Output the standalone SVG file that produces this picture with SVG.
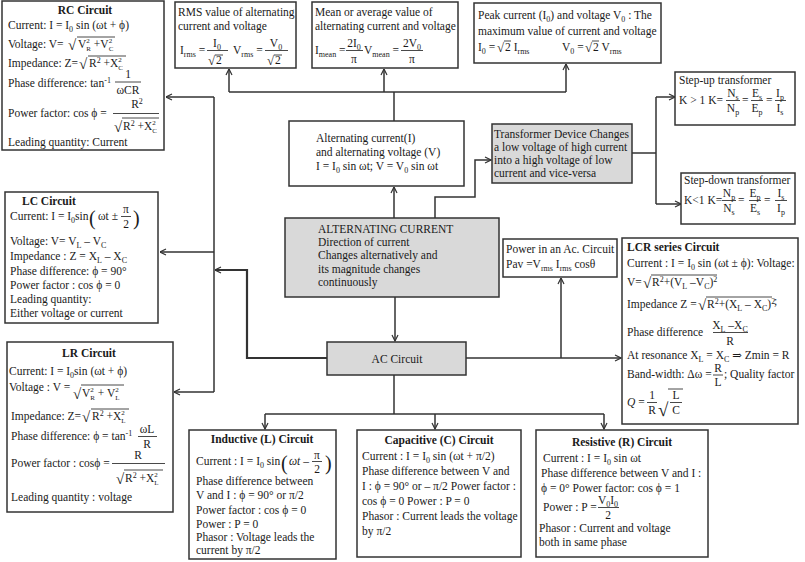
<svg xmlns="http://www.w3.org/2000/svg" width="805" height="562" viewBox="0 0 805 562">
<defs>
<style>
text{font-family:"Liberation Serif","DejaVu Serif",serif;font-size:11.5px;fill:#1a1a1a}
.b{font-weight:bold}
.m{text-anchor:middle}
.i{font-style:italic}
.sb{font-size:8px;baseline-shift:-2.5px}
.sp{font-size:8px;baseline-shift:4px}
.sp2{font-size:7px;baseline-shift:5px}
.sb2{font-size:7px;baseline-shift:-3px}
.rad{font-size:15px}
.rs{font-size:13px}
.bp{font-size:20px}
.box{fill:#fff;stroke:#333;stroke-width:1.5}
.gbox{fill:#d9d9d9;stroke:#333;stroke-width:1.5}
.ov{stroke:#1a1a1a;stroke-width:0.8}
.c path{fill:none;stroke:#333;stroke-width:1.5}
.c .a{marker-end:url(#ah)}
.c .t{stroke-width:2.2}
</style>
<marker id="ah" viewBox="0 0 8 8" refX="7.5" refY="4" markerWidth="8" markerHeight="8" markerUnits="userSpaceOnUse" orient="auto">
<path d="M1.5,1 L7.5,4 L1.5,7" fill="none" stroke="#333" stroke-width="1.2"/>
</marker>
</defs>
<rect width="805" height="562" fill="#fff"/>

<g class="c" id="connectors">
<path d="M394,121 V92"/>
<path d="M229,92 H566"/>
<path class="a" d="M229,92 V69"/>
<path class="a" d="M384,92 V69"/>
<path class="a" d="M566,92 V64"/>
<path class="a" d="M394,218 V187"/>
<path class="a" d="M435,218 V197 H475 V160 H491"/>
<path d="M632,153 H656"/>
<path d="M656,97 V204"/>
<path class="a" d="M656,97 H675"/>
<path class="a" d="M656,204 H681"/>
<path class="a" d="M395,297 V341"/>
<path class="a" d="M466,358 H621"/>
<path class="a" d="M561,358 V278"/>
<path class="a t" d="M327,358 H247 V270 H215"/>
<path d="M214,97 V392"/>
<path class="a" d="M214,97 H166"/>
<path class="a" d="M214,252 H160"/>
<path class="a" d="M214,392 H174"/>
<path d="M394,375 V414"/>
<path d="M265,414 H604"/>
<path class="a" d="M265,414 V429"/>
<path class="a" d="M435,414 V429"/>
<path class="a" d="M604,414 V429"/>
</g>

<g id="rc-circuit">
<rect class="box" x="2" y="1" width="162" height="149"/>
<text class="b m" x="85" y="14">RC Circuit</text>
<text x="8" y="29">Current: I = I<tspan class="sb">0</tspan> sin (ωt + ϕ)</text>
<text x="8" y="48">Voltage: V=</text>
<text class="rad" x="68" y="50">√</text>
<line class="ov" x1="77" y1="37" x2="115" y2="37"/>
<text x="78" y="48">V<tspan class="sp2">2</tspan><tspan class="sb2" dx="-3.5">R</tspan> +V<tspan class="sp2">2</tspan><tspan class="sb2" dx="-3.5">C</tspan></text>
<text x="8" y="67">Impedance: Z=</text>
<text class="rad" x="79" y="69">√</text>
<line class="ov" x1="88" y1="56" x2="126" y2="56"/>
<text x="89" y="67">R<tspan class="sp">2</tspan> +X<tspan class="sp2">2</tspan><tspan class="sb2" dx="-3.5">C</tspan></text>
<text x="8" y="87">Phase difference: tan<tspan class="sp">-1</tspan></text>
<text class="m" x="128" y="78">1</text>
<line class="ov" x1="115" y1="82" x2="141" y2="82"/>
<text class="m" x="128" y="94">ωCR</text>
<text x="8" y="117">Power factor: cos ϕ  =</text>
<text class="m" x="137" y="108">R<tspan class="sp">2</tspan></text>
<line class="ov" x1="113" y1="113.5" x2="159" y2="113.5"/>
<text class="rad" x="114" y="132">√</text>
<line class="ov" x1="122" y1="118" x2="159" y2="118"/>
<text x="123" y="130">R<tspan class="sp">2</tspan> +X<tspan class="sp2">2</tspan><tspan class="sb2" dx="-3.5">C</tspan></text>
<text x="8" y="146">Leading quantity: Current</text>
</g>

<g id="rms-value">
<rect class="box" x="175" y="2" width="121" height="66"/>
<text x="178" y="16">RMS value of alternating</text>
<text x="178" y="30">current and voltage</text>
<text x="180" y="54">I<tspan class="sb">rms</tspan> =</text>
<text class="m" x="217" y="47">I<tspan class="sb">0</tspan></text>
<line class="ov" x1="207" y1="50.5" x2="228" y2="50.5"/>
<text class="rs" x="208" y="65">√</text>
<line class="ov" x1="215" y1="55" x2="223" y2="55"/>
<text x="216" y="64">2</text>
<text x="233" y="54">V<tspan class="sb">rms</tspan> =</text>
<text class="m" x="276" y="47">V<tspan class="sb">0</tspan></text>
<line class="ov" x1="265" y1="50.5" x2="288" y2="50.5"/>
<text class="rs" x="267" y="65">√</text>
<line class="ov" x1="274" y1="55" x2="282" y2="55"/>
<text x="275" y="64">2</text>
</g>

<g id="mean-value">
<rect class="box" x="312" y="2" width="146" height="66"/>
<text x="315" y="16">Mean or average value of</text>
<text x="315" y="30">alternating current and voltage</text>
<text x="315" y="54">I<tspan class="sb">mean</tspan> =</text>
<text class="m" x="354" y="47">2I<tspan class="sb">0</tspan></text>
<line class="ov" x1="346" y1="50.5" x2="363" y2="50.5"/>
<text class="m" x="354" y="63">π</text>
<text x="364" y="54">V<tspan class="sb">mean</tspan> =</text>
<text class="m" x="412" y="47">2V<tspan class="sb">0</tspan></text>
<line class="ov" x1="401" y1="50.5" x2="423" y2="50.5"/>
<text class="m" x="412" y="63">π</text>
</g>

<g id="peak-value">
<rect class="box" x="474" y="3" width="187" height="60"/>
<text x="478" y="19">Peak current (I<tspan class="sb">0</tspan>) and voltage V<tspan class="sb">0</tspan> : The</text>
<text x="478" y="35">maximum value of current and voltage</text>
<text x="478" y="51">I<tspan class="sb">0</tspan> =</text>
<text class="rs" x="497" y="52">√</text>
<line class="ov" x1="504" y1="41" x2="511" y2="41"/>
<text x="505" y="51">2 I<tspan class="sb">rms</tspan></text>
<text x="562" y="51">V<tspan class="sb">0</tspan> =</text>
<text class="rs" x="585" y="52">√</text>
<line class="ov" x1="592" y1="41" x2="599" y2="41"/>
<text x="593" y="51">2 V<tspan class="sb">rms</tspan></text>
</g>

<g id="alternating-current-voltage">
<rect class="box" x="289" y="121" width="175" height="65"/>
<text x="316" y="142">Alternating current(I)</text>
<text x="316" y="156">and alternating voltage (V)</text>
<text x="316" y="170">I = I<tspan class="sb">0</tspan> sin ωt; V = V<tspan class="sb">0</tspan> sin ωt</text>
</g>

<g id="transformer">
<rect class="gbox" x="492" y="124" width="140" height="59"/>
<text x="494" y="138">Transformer Device Changes</text>
<text x="494" y="151">a low voltage of high current</text>
<text x="494" y="164">into a high voltage of low</text>
<text x="494" y="177">current and vice-versa</text>
</g>

<g id="step-up">
<rect class="box" x="675" y="72" width="120" height="53"/>
<text x="679" y="84">Step-up transformer</text>
<text x="679" y="104">K &gt; 1  K=</text>
<text class="m" x="733" y="97">N<tspan class="sb">s</tspan></text>
<line class="ov" x1="726" y1="100.5" x2="740" y2="100.5"/>
<text class="m" x="733" y="112">N<tspan class="sb">p</tspan></text>
<text x="742" y="104">=</text>
<text class="m" x="757" y="97">E<tspan class="sb">s</tspan></text>
<line class="ov" x1="751" y1="100.5" x2="763" y2="100.5"/>
<text class="m" x="757" y="112">E<tspan class="sb">p</tspan></text>
<text x="766" y="104">=</text>
<text class="m" x="780" y="97">I<tspan class="sb">p</tspan></text>
<line class="ov" x1="775" y1="100.5" x2="786" y2="100.5"/>
<text class="m" x="780" y="112">I<tspan class="sb">s</tspan></text>
</g>

<g id="step-down">
<rect class="box" x="681" y="173" width="114" height="51"/>
<text x="684" y="184">Step-down transformer</text>
<text x="684" y="204">K&lt;1 K=</text>
<text class="m" x="729" y="197">N<tspan class="sb">p</tspan></text>
<line class="ov" x1="722" y1="200.5" x2="736" y2="200.5"/>
<text class="m" x="729" y="212">N<tspan class="sb">s</tspan></text>
<text x="738" y="204">=</text>
<text class="m" x="755" y="197">E<tspan class="sb">p</tspan></text>
<line class="ov" x1="749" y1="200.5" x2="761" y2="200.5"/>
<text class="m" x="755" y="212">E<tspan class="sb">s</tspan></text>
<text x="764" y="204">=</text>
<text class="m" x="781" y="197">I<tspan class="sb">s</tspan></text>
<line class="ov" x1="775" y1="200.5" x2="787" y2="200.5"/>
<text class="m" x="781" y="212">I<tspan class="sb">p</tspan></text>
</g>

<g id="alternating-current">
<rect class="gbox" x="285" y="218" width="214" height="79"/>
<text x="318" y="233">ALTERNATING CURRENT</text>
<text x="318" y="246">Direction of current</text>
<text x="318" y="259">Changes alternatively and</text>
<text x="318" y="273">its magnitude changes</text>
<text x="318" y="286">continuously</text>
</g>

<g id="power">
<rect class="box" x="503" y="239" width="114" height="38"/>
<text x="506" y="253">Power in an Ac. Circuit</text>
<text x="506" y="268">Pav =V<tspan class="sb">rms</tspan> I<tspan class="sb">rms</tspan> cosθ</text>
</g>

<g id="ac-circuit">
<rect class="gbox" x="327" y="342" width="139" height="33"/>
<text class="m" x="397" y="363">AC Circuit</text>
</g>

<g id="lc-circuit">
<rect class="box" x="5" y="192" width="153" height="131"/>
<text class="b" x="22" y="205">LC  Circuit</text>
<text x="10" y="220">Current: I = I<tspan class="sb">0</tspan>sin</text>
<text class="bp" x="89" y="225">(</text>
<text x="98" y="220">ωt ±</text>
<text class="m" x="126" y="213">π</text>
<line class="ov" x1="121" y1="216.5" x2="131" y2="216.5"/>
<text class="m" x="126" y="228">2</text>
<text class="bp" x="133" y="225">)</text>
<text x="10" y="245">Voltage: V= V<tspan class="sb">L</tspan> – V<tspan class="sb">C</tspan></text>
<text x="10" y="260">Impedance : Z = X<tspan class="sb">L</tspan> – X<tspan class="sb">C</tspan></text>
<text x="10" y="275">Phase difference: ϕ = 90°</text>
<text x="10" y="289">Power factor : cos ϕ = 0</text>
<text x="10" y="303">Leading quantity:</text>
<text x="10" y="317">Either voltage or current</text>
</g>

<g id="lr-circuit">
<rect class="box" x="7" y="342" width="166" height="170"/>
<text class="b m" x="89" y="357">LR Circuit</text>
<text x="9" y="375">Current: I = I<tspan class="sb">0</tspan>sin (ωt + ϕ)</text>
<text x="9" y="391">Voltage : V =</text>
<text class="rad" x="73" y="399">√</text>
<line class="ov" x1="81" y1="385" x2="124" y2="385"/>
<text x="82" y="397">V<tspan class="sp2">2</tspan><tspan class="sb2" dx="-3.5">R</tspan> + V<tspan class="sp2">2</tspan><tspan class="sb2" dx="-3.5">L</tspan></text>
<text x="11" y="420">Impedance: Z=</text>
<text class="rad" x="82" y="422">√</text>
<line class="ov" x1="91" y1="409" x2="129" y2="409"/>
<text x="92" y="420">R<tspan class="sp">2</tspan> +X<tspan class="sp2">2</tspan><tspan class="sb2" dx="-3.5">L</tspan></text>
<text x="11" y="440">Phase difference: ϕ = tan<tspan class="sp">-1</tspan></text>
<text class="m" x="147" y="433">ωL</text>
<line class="ov" x1="138" y1="436.5" x2="157" y2="436.5"/>
<text class="m" x="147" y="448">R</text>
<text x="11" y="467">Power factor : cosϕ =</text>
<text class="m" x="138" y="459">R</text>
<line class="ov" x1="112" y1="463.5" x2="165" y2="463.5"/>
<text class="rad" x="116" y="484">√</text>
<line class="ov" x1="124" y1="470" x2="163" y2="470"/>
<text x="125" y="482">R<tspan class="sp">2</tspan> +X<tspan class="sp2">2</tspan><tspan class="sb2" dx="-3.5">L</tspan></text>
<text x="11" y="501">Leading quantity : voltage</text>
</g>

<g id="lcr-circuit">
<rect class="box" x="622" y="238" width="176" height="186"/>
<text class="b" x="627" y="251">LCR series Circuit</text>
<text x="627" y="267">Current : I = I<tspan class="sb">0</tspan> sin (ωt ± ϕ): Voltage:</text>
<text x="627" y="286">V=</text>
<text class="rad" x="643" y="288">√</text>
<line class="ov" x1="651" y1="275" x2="717" y2="275"/>
<text x="652" y="286">R<tspan class="sp">2</tspan>+(V<tspan class="sb">L</tspan> –V<tspan class="sb">C</tspan>)<tspan class="sp">2</tspan></text>
<text x="627" y="308">Impedance Z =</text>
<text class="rad" x="698" y="310">√</text>
<line class="ov" x1="706" y1="297" x2="772" y2="297"/>
<text x="707" y="308">R<tspan class="sp">2</tspan>+(X<tspan class="sb">L</tspan> – X<tspan class="sb">C</tspan>)<tspan class="sp">2</tspan></text>
<text x="774" y="305">;</text>
<text x="627" y="336">Phase difference</text>
<text class="m" x="730" y="328.5">X<tspan class="sb">L</tspan> –X<tspan class="sb">C</tspan></text>
<line class="ov" x1="713" y1="332.5" x2="748" y2="332.5"/>
<text class="m" x="730" y="345">R</text>
<text x="627" y="359">At resonance X<tspan class="sb">L</tspan> = X<tspan class="sb">C</tspan> ⇒ Zmin = R</text>
<text x="627" y="378">Band-width: Δω =</text>
<text class="m" x="718" y="372">R</text>
<line class="ov" x1="713" y1="375" x2="723" y2="375"/>
<text class="m" x="718" y="386">L</text>
<text x="724" y="378">; Quality factor</text>
<text x="627" y="406"><tspan class="i">Q</tspan> =</text>
<text class="m" x="652" y="399">1</text>
<line class="ov" x1="647" y1="402.5" x2="657" y2="402.5"/>
<text class="m" x="652" y="414">R</text>
<text style="font-size:19px" x="658" y="416">√</text>
<line class="ov" x1="668" y1="389" x2="683" y2="389"/>
<text class="m" x="676" y="399">L</text>
<line class="ov" x1="670" y1="402.5" x2="682" y2="402.5"/>
<text class="m" x="676" y="414">C</text>
</g>

<g id="inductive-circuit">
<rect class="box" x="189" y="430" width="147" height="129"/>
<text class="b m" x="262" y="443">Inductive (L) Circuit</text>
<text x="196" y="465">Current : I = I<tspan class="sb">0</tspan> sin</text>
<text class="bp" x="281" y="470">(</text>
<text x="289" y="465"><tspan class="i">ωt</tspan> –</text>
<text class="m" x="317" y="459">π</text>
<line class="ov" x1="312" y1="461.5" x2="322" y2="461.5"/>
<text class="m" x="317" y="473">2</text>
<text class="bp" x="325" y="470">)</text>
<text x="196" y="485">Phase difference between</text>
<text x="196" y="499">V and I : ϕ = 90° or π/2</text>
<text x="196" y="514">Power factor : cos ϕ = 0</text>
<text x="196" y="528">Power : P = 0</text>
<text x="196" y="541">Phasor : Voltage leads the</text>
<text x="196" y="554">current by π/2</text>
</g>

<g id="capacitive-circuit">
<rect class="box" x="357" y="430" width="164" height="127"/>
<text class="b m" x="439" y="444">Capacitive (C) Circuit</text>
<text x="362" y="460">Current : I = I<tspan class="sb">0</tspan> sin (ωt + π/2)</text>
<text x="362" y="475">Phase difference between V and</text>
<text x="362" y="490">I : ϕ = 90° or – π/2 Power factor :</text>
<text x="362" y="505">cos ϕ = 0 Power : P = 0</text>
<text x="362" y="520">Phasor : Current leads the voltage</text>
<text x="362" y="535">by π/2</text>
</g>

<g id="resistive-circuit">
<rect class="box" x="536" y="430" width="172" height="127"/>
<text class="b m" x="622" y="446">Resistive (R) Circuit</text>
<text x="543" y="462">Current : I = I<tspan class="sb">0</tspan> sin ωt</text>
<text x="541" y="477">Phase difference between V and I :</text>
<text x="541" y="492">ϕ = 0° Power factor: cos ϕ = 1</text>
<text x="543" y="511">Power : P =</text>
<text class="m" x="608" y="503.5">V<tspan class="sb">0</tspan>I<tspan class="sb">0</tspan></text>
<line class="ov" x1="598" y1="507.5" x2="619" y2="507.5"/>
<text class="m" x="608" y="519">2</text>
<text x="539" y="532">Phasor : Current and voltage</text>
<text x="539" y="546">both in same phase</text>
</g>
</svg>
